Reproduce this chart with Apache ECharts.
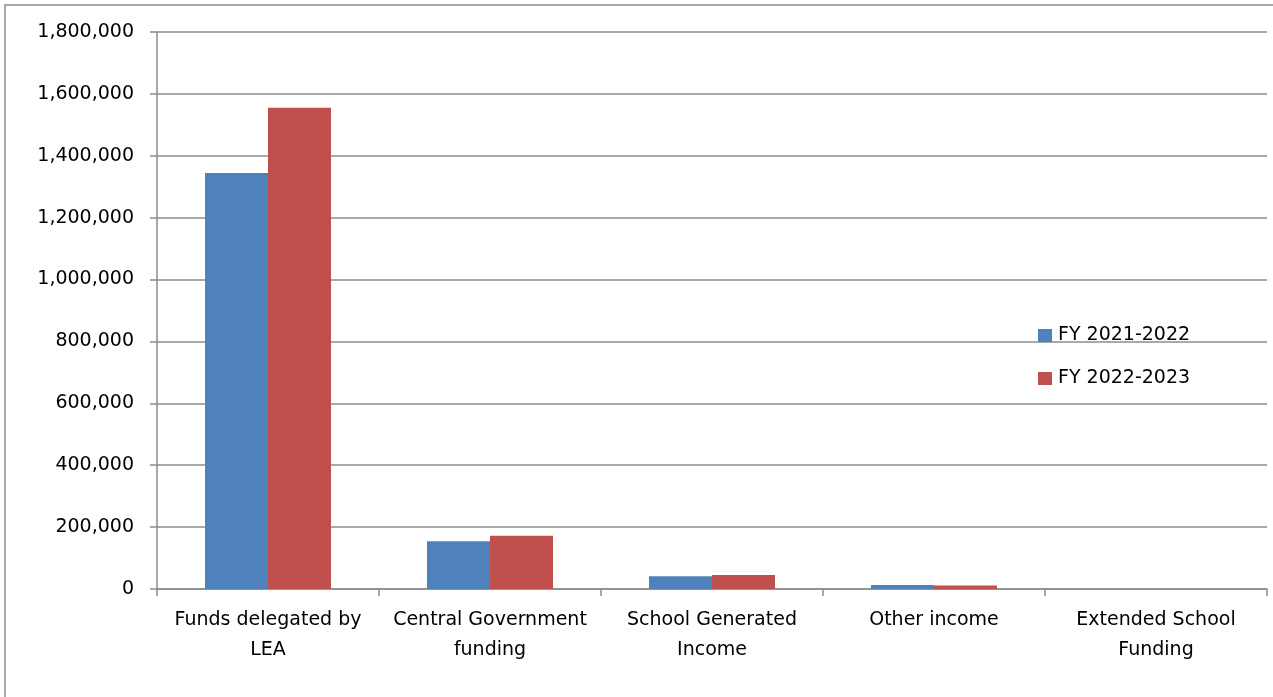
<!DOCTYPE html>
<html>
<head>
<meta charset="utf-8">
<script src="https://cdn.jsdelivr.net/npm/echarts@6/dist/echarts.min.js"></script>
<style>
html,body{margin:0;padding:0;background:#fff;}
#chart{width:1273px;height:697px;}
</style>
</head>
<body>
<div id="chart"></div>
<script>
const categories = ['Funds delegated by\nLEA', 'Central Government\nfunding', 'School Generated\nIncome', 'Other income', 'Extended School\nFunding'];
const seriesNames = ['FY 2021-2022', 'FY 2022-2023'];
const fy2122 = [1344000, 154000, 41000, 13000, 0];
const fy2223 = [1555000, 172000, 45000, 11000, 0];
const yTicks = { min: 0, max: 1800000, interval: 200000 };

const FONT = '"DejaVu Sans"';
const chart = echarts.init(document.getElementById('chart'));
chart.setOption({
  animation: false,
  backgroundColor: '#fff',
  textStyle: { fontFamily: FONT },
  graphic: [{
    type: 'rect',
    shape: { x: 5, y: 5, width: 1400, height: 900 },
    style: { fill: 'none', stroke: '#8c8c8c', lineWidth: 1.5 },
    silent: true, z: -10
  }],
  grid: { left: 157, right: 6, top: 32, bottom: 108, containLabel: false },
  legend: {
    orient: 'vertical', left: 1033, top: 321,
    itemWidth: 14, itemHeight: 13, itemGap: 24,
    icon: 'rect',
    textStyle: { fontFamily: FONT, fontSize: 19, color: '#000', lineHeight: 19, padding: [0, 0, 0, 1] },
    data: seriesNames
  },
  xAxis: {
    type: 'category', data: categories,
    axisLine: { lineStyle: { color: '#8c8c8c', width: 1.5 } },
    axisTick: { show: true, length: 7, alignWithLabel: false, lineStyle: { color: '#8c8c8c', width: 1.5 } },
    axisLabel: { fontFamily: FONT, fontSize: 19, color: '#000', lineHeight: 30, margin: 16, interval: 0 }
  },
  yAxis: {
    type: 'value', min: yTicks.min, max: yTicks.max, interval: yTicks.interval,
    axisLine: { show: true, lineStyle: { color: '#8c8c8c', width: 1.5 } },
    axisTick: { show: true, length: 7, lineStyle: { color: '#8c8c8c', width: 1.5 } },
    splitLine: { lineStyle: { color: '#8c8c8c', width: 1.5 } },
    axisLabel: { fontFamily: FONT, fontSize: 19, color: '#000', margin: 23,
      formatter: v => v.toLocaleString('en-US') }
  },
  series: [
    { name: seriesNames[0], type: 'bar', data: fy2122, barWidth: 63, barGap: '0%',
      itemStyle: { color: '#4f81bd' } },
    { name: seriesNames[1], type: 'bar', data: fy2223, barWidth: 63, barGap: '0%',
      itemStyle: { color: '#c0504d' } }
  ]
});
</script>
</body>
</html>
